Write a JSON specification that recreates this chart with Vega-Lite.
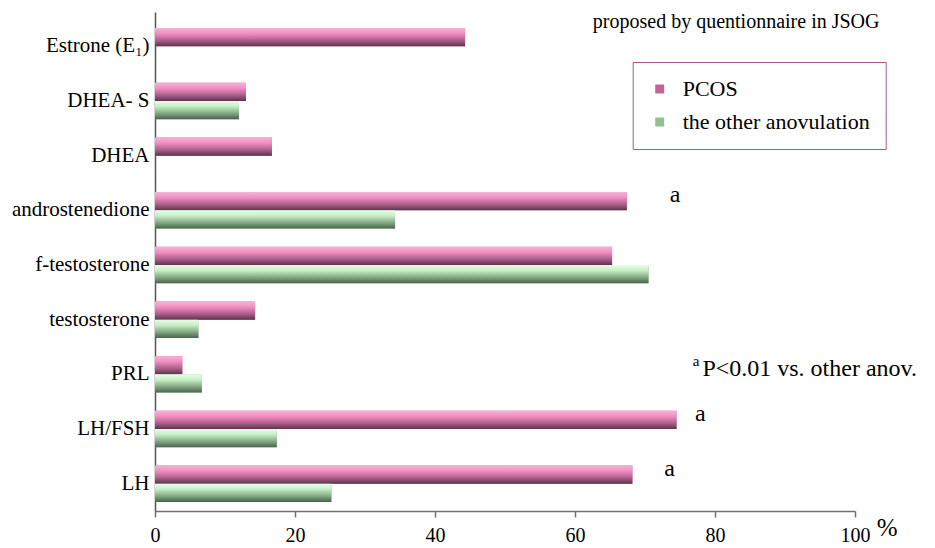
{
  "$schema": "https://vega.github.io/schema/vega-lite/v6.json",
  "width": 700,
  "height": 499,
  "autosize": {"type": "none"},
  "padding": {"left": 155, "top": 12, "right": 80, "bottom": 37},
  "background": "white",
  "config": {"view": {"stroke": null}, "font": "Liberation Serif"},
  "datasets": {
    "bars": [
      {"category": "Estrone (E₁)", "series": "PCOS", "value": 44.3},
      {"category": "DHEA- S", "series": "PCOS", "value": 13.0},
      {"category": "DHEA- S", "series": "the other anovulation", "value": 12.0},
      {"category": "DHEA", "series": "PCOS", "value": 16.7},
      {"category": "androstenedione", "series": "PCOS", "value": 67.4},
      {"category": "androstenedione", "series": "the other anovulation", "value": 34.3},
      {"category": "f-testosterone", "series": "PCOS", "value": 65.3},
      {"category": "f-testosterone", "series": "the other anovulation", "value": 70.5},
      {"category": "testosterone", "series": "PCOS", "value": 14.3},
      {"category": "testosterone", "series": "the other anovulation", "value": 6.2},
      {"category": "PRL", "series": "PCOS", "value": 3.9},
      {"category": "PRL", "series": "the other anovulation", "value": 6.7},
      {"category": "LH/FSH", "series": "PCOS", "value": 74.5},
      {"category": "LH/FSH", "series": "the other anovulation", "value": 17.4},
      {"category": "LH", "series": "PCOS", "value": 68.2},
      {"category": "LH", "series": "the other anovulation", "value": 25.2}
    ],
    "annot": [
      {"category": "androstenedione", "series": "PCOS", "value": 74.3, "text": "a"},
      {"category": "LH/FSH", "series": "PCOS", "value": 77.9, "text": "a"},
      {"category": "LH", "series": "PCOS", "value": 73.5, "text": "a"}
    ],
    "notes": [
      {"role": "note", "category": "Estrone (E₁)", "value": 103.5, "text": "proposed by quentionnaire in JSOG"},
      {"role": "foot", "category": "PRL", "value": 78.2, "text": "P<0.01 vs. other anov."},
      {"role": "sup", "category": "PRL", "value": 77.3, "text": "a"}
    ]
  },
  "data": {"name": "bars"},
  "encoding": {
    "y": {
      "field": "category",
      "type": "nominal",
      "scale": {
        "domain": ["Estrone (E₁)", "DHEA- S", "DHEA", "androstenedione", "f-testosterone", "testosterone", "PRL", "LH/FSH", "LH"],
        "paddingInner": 0.3333,
        "paddingOuter": 0.23,
        "align": 0.64
      },
      "axis": {
        "title": null,
        "ticks": false,
        "domainColor": "#555555",
        "domainWidth": 1.5,
        "labelFontSize": 21,
        "labelColor": "black",
        "labelPadding": 6,
        "labelFont": "Liberation Serif",
        "labelLimit": 300
      }
    },
    "x": {
      "field": "value",
      "type": "quantitative",
      "scale": {"domain": [0, 100], "nice": false},
      "axis": {
        "values": [0, 20, 40, 60, 80, 100],
        "title": "%",
        "titleX": 731.7,
        "titleY": 16,
        "titleAngle": 0,
        "titleFontSize": 25,
        "titleFontWeight": "normal",
        "titleFont": "Liberation Serif",
        "titleAlign": "center",
        "titleBaseline": "middle",
        "titleColor": "black",
        "grid": false,
        "domainColor": "#707070",
        "domainWidth": 1.5,
        "tickColor": "#707070",
        "tickWidth": 1.5,
        "tickSize": 6,
        "labelFontSize": 20,
        "labelColor": "black",
        "labelPadding": 8,
        "labelFont": "Liberation Serif",
        "labelFlush": false
      }
    }
  },
  "layer": [
    {
      "mark": {"type": "bar"},
      "encoding": {
        "yOffset": {"field": "series", "type": "nominal", "scale": {"domain": ["PCOS", "the other anovulation"], "paddingInner": 0, "paddingOuter": 0}},
        "color": {
          "field": "series",
          "type": "nominal",
          "scale": {"domain": ["PCOS", "the other anovulation"], "range": ["#c4638f", "#93bf93"]},
          "legend": {
            "title": null,
            "orient": "none",
            "legendX": 477.7,
            "legendY": 50,
            "strokeColor": "#a35a86",
            "fillColor": "white",
            "padding": 16,
            "symbolType": "square",
            "symbolSize": 80,
            "symbolStrokeWidth": 0,
            "labelFont": "Liberation Serif",
            "labelFontSize": 22,
            "labelColor": "black",
            "labelOffset": 12,
            "rowPadding": 11,
            "labelLimit": 400,
            "labelExpr": "datum.label == 'PCOS' ? '\u00a0PCOS' : datum.label"
          }
        }
      }
    },
    {
      "transform": [{"filter": "datum.series == 'PCOS'"}],
      "mark": {
        "type": "bar",
        "color": {
          "gradient": "linear", "x1": 0, "y1": 0, "x2": 0, "y2": 1,
          "stops": [
            {"offset": 0, "color": "#f7b3d6"},
            {"offset": 0.3, "color": "#f08ec2"},
            {"offset": 0.65, "color": "#b2628f"},
            {"offset": 1, "color": "#5c3449"}
          ]
        }
      },
      "encoding": {
        "yOffset": {"field": "series", "type": "nominal"}
      }
    },
    {
      "transform": [{"filter": "datum.series == 'the other anovulation'"}],
      "mark": {
        "type": "bar",
        "color": {
          "gradient": "linear", "x1": 0, "y1": 0, "x2": 0, "y2": 1,
          "stops": [
            {"offset": 0, "color": "#e8fde8"},
            {"offset": 0.3, "color": "#c5efc5"},
            {"offset": 0.65, "color": "#88ad88"},
            {"offset": 1, "color": "#4b634b"}
          ]
        }
      },
      "encoding": {
        "yOffset": {"field": "series", "type": "nominal"}
      }
    },
    {
      "data": {"name": "annot"},
      "mark": {"type": "text", "font": "Liberation Serif", "fontSize": 24, "color": "black", "align": "center", "baseline": "middle", "dy": -6},
      "encoding": {
        "yOffset": {"field": "series", "type": "nominal"},
        "text": {"field": "text"}
      }
    },
    {
      "data": {"name": "notes"},
      "transform": [{"filter": "datum.role == 'note'"}],
      "mark": {"type": "text", "font": "Liberation Serif", "fontSize": 20, "color": "black", "align": "right", "baseline": "middle", "dy": -24},
      "encoding": {"text": {"field": "text"}}
    },
    {
      "data": {"name": "notes"},
      "transform": [{"filter": "datum.role == 'foot'"}],
      "mark": {"type": "text", "font": "Liberation Serif", "fontSize": 24, "color": "black", "align": "left", "baseline": "middle", "dy": -5},
      "encoding": {"text": {"field": "text"}}
    },
    {
      "data": {"name": "notes"},
      "transform": [{"filter": "datum.role == 'sup'"}],
      "mark": {"type": "text", "font": "Liberation Serif", "fontSize": 15, "color": "black", "align": "center", "baseline": "middle", "dy": -13},
      "encoding": {"text": {"field": "text"}}
    }
  ]
}
